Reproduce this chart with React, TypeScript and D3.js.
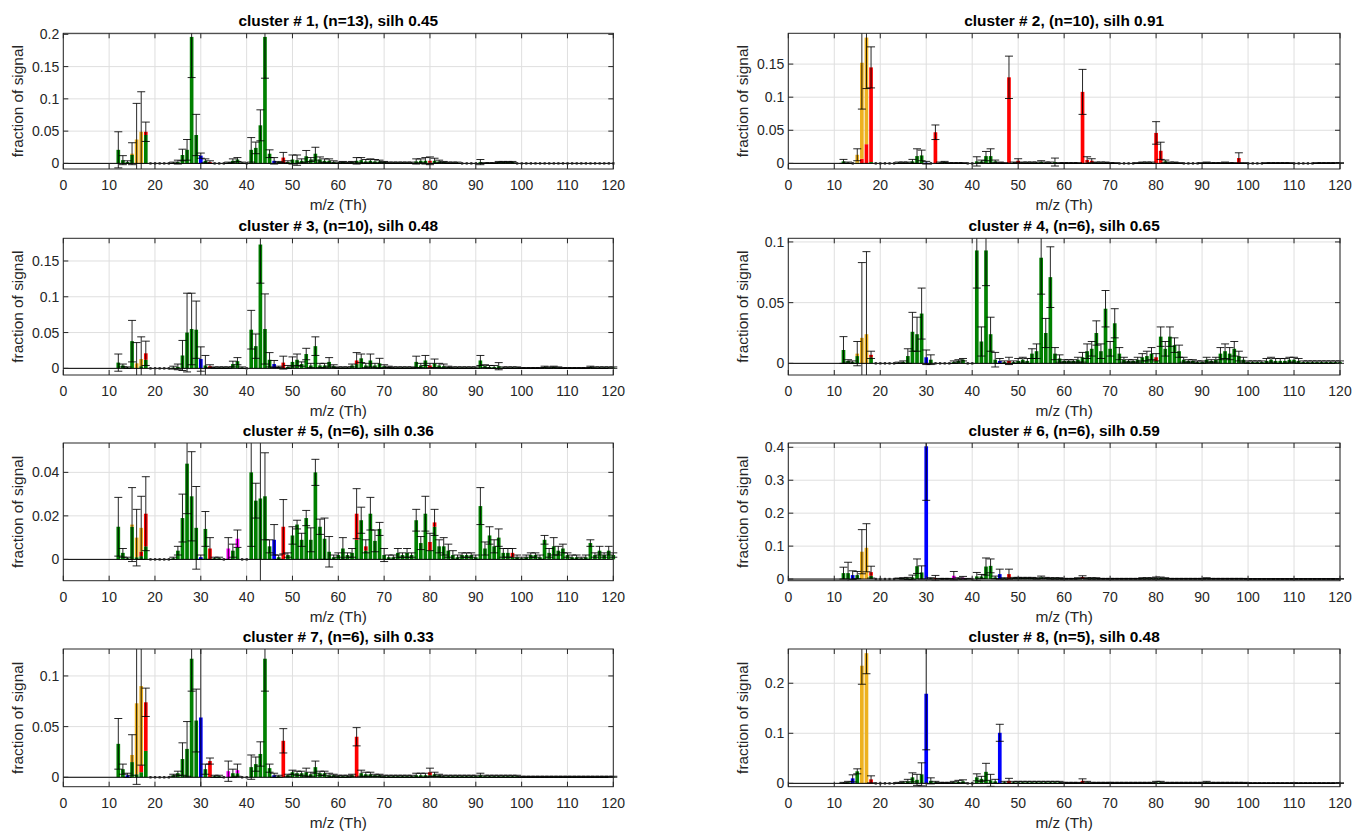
import React from 'react';
import * as d3 from 'd3';

// m/z categories on the x axis
const MZ = d3.range(12, 121);

// fraction of signal in thousandths, one value per m/z 12..120
const c1Mean = [
  21, 5, 2, 15, 37, 49, 49, 0, // 12-19
  0, 0, 0, 0, 1, 2, 13, 21, 196, 44, // 20-29
  12, 4, 2, 0, 0, 0, 1, 4, 6, 1, // 30-39
  0, 21, 24, 59, 196, 15, 4, 2, 9, 2, // 40-49
  6, 5, 4, 11, 6, 15, 6, 4, 4, 2, // 50-59
  1, 2, 1, 2, 4, 5, 3, 4, 3, 3, // 60-69
  2, 1, 1, 1, 1, 1, 1, 3, 4, 4, // 70-79
  4, 4, 3, 2, 1, 1, 1, 0, 0, 0, // 80-89
  0, 2, 0.5, 0.5, 0.5, 2, 2, 2, 2, 0, // 90-99
  0, 0, 0, 0, 0, 0, 0, 0, 0, 0, // 100-109
  0, 0, 0, 0, 0, 0, 0, 0, 0, 0, // 110-119
  0, // 120
];
const c1Err = [
  28, 7, 2, 17, 56, 62, 15, 0,
  0, 0, 0, 0, 1, 3, 9, 16, 63, 32,
  4, 3, 2, 0, 0, 0, 1, 3, 3, 1,
  0, 19, 9, 24, 64, 6, 5, 1, 8, 2,
  7, 8, 3, 9, 3, 10, 4, 3, 3, 2,
  1, 1, 1, 1, 5, 4, 3, 3, 3, 2,
  1, 1, 1, 1, 1, 1, 1, 4, 3, 5,
  6, 4, 2, 1, 1, 1, 1, 0, 0, 0,
  0, 4, 0.5, 0.5, 0.5, 1, 1, 1, 1, 0,
  0, 0, 0, 0, 0, 0, 0, 0, 0, 0,
  0, 0, 0, 0, 0, 0, 0, 0, 0, 0,
  0,
];
// non-green families stacked above the green part: [m/z, family, value]
const c1Ions = [
  [15, 'o', 2], [16, 'o', 37], [17, 'o', 49], [18, 'r', 5], [30, 'b', 12],
  [32, 'r', 2], [46, 'b', 4], [48, 'r', 9], [80, 'r', 3],
];

const c2Mean = [
  3, 1, 0, 13, 152, 190, 145, 0,
  0, 0, 0, 0, 1, 1, 1, 3, 11, 12,
  1, 0, 47, 1, 2, 0.5, 0.5, 0.5, 0.5, 0,
  0, 3, 3, 11, 11, 3, 1, 0.5, 130, 1,
  4, 1, 1, 1, 1, 2, 1, 1, 2, 0.5,
  0.5, 0.5, 0.5, 0.5, 108, 5, 4, 1, 1, 1,
  0.5, 0.5, 0, 0, 0, 0, 0.5, 1, 1, 1,
  46, 19, 3, 1, 1, 0.5, 0, 0, 0, 0,
  0.5, 1, 0.5, 0.5, 0.5, 1, 0.5, 0.5, 8, 0.5,
  0, 0, 0, 0, 0.5, 0.5, 0.5, 0.5, 0.5, 0.5,
  0, 0, 0, 0, 0, 0.5, 0.5, 0.5, 0.5, 0.5,
  0.5,
];
const c2Err = [
  3, 1, 0, 9, 70, 77, 31, 0,
  0, 0, 0, 0, 1, 1, 1, 3, 11, 8,
  2, 0, 11, 1, 1, 0.5, 0.5, 0.5, 0.5, 0,
  0, 7, 2, 7, 11, 2, 1, 0.5, 32, 1,
  3, 1, 1, 1, 1, 2, 1, 1, 6, 0.5,
  0.5, 0.5, 0.5, 0.5, 34, 5, 3, 1, 1, 1,
  0.5, 0.5, 0, 0, 0, 0, 0.5, 1, 1, 1,
  17, 13, 2, 1, 1, 0.5, 0, 0, 0, 0,
  0.5, 1, 0.5, 0.5, 0.5, 1, 0.5, 0.5, 8, 0.5,
  0, 0, 0, 0, 0.5, 0.5, 0.5, 0.5, 0.5, 0.5,
  0, 0, 0, 0, 0, 0.5, 0.5, 0.5, 0.5, 0.5,
  0.5,
];
const c2Ions = [
  [15, 'o', 12], [16, 'r', 7], [16, 'o', 145], [17, 'r', 29], [17, 'o', 161],
  [18, 'r', 143], [30, 'b', 1], [32, 'r', 47], [48, 'r', 130], [50, 'r', 4],
  [64, 'r', 108], [65, 'r', 4], [66, 'r', 3], [80, 'r', 46], [81, 'r', 19], [98, 'r', 8],
];

const c3Mean = [
  8, 4, 1, 38, 7, 13, 21, 0,
  0, 0, 0, 0, 1, 2, 18, 50, 55, 54,
  13, 4, 3, 1, 1, 1, 1, 6, 10, 1,
  0, 54, 31, 173, 55, 12, 6, 2, 8, 2,
  9, 12, 6, 20, 4, 31, 4, 4, 9, 3,
  1, 1, 1, 4, 11, 14, 4, 11, 4, 7,
  3, 2, 1, 1, 1, 1, 1, 9, 4, 11,
  4, 7, 4, 3, 2, 1, 1, 1, 1, 1,
  1, 11, 3, 2, 2, 3, 1, 1, 1, 1,
  0.5, 0.5, 0.5, 0.5, 0.5, 2, 1, 2, 1, 0.5,
  0.5, 0.5, 0.5, 0.5, 0.5, 2, 1, 1, 1, 1,
  1,
];
const c3Err = [
  12, 2, 1, 29, 29, 31, 17, 0,
  0, 0, 0, 0, 2, 4, 21, 55, 50, 40,
  17, 14, 2, 1, 1, 1, 1, 4, 5, 1,
  0, 27, 17, 54, 49, 10, 5, 1, 9, 2,
  7, 8, 3, 8, 3, 13, 3, 3, 6, 2,
  1, 1, 1, 2, 11, 6, 3, 9, 3, 7,
  2, 1, 1, 1, 1, 1, 1, 8, 3, 7,
  3, 6, 3, 3, 1, 1, 1, 1, 1, 1,
  1, 7, 2, 2, 2, 5, 1, 1, 1, 1,
  0.5, 0.5, 0.5, 0.5, 0.5, 1, 1, 1, 1, 0.5,
  0.5, 0.5, 0.5, 0.5, 0.5, 1, 1, 1, 1, 1,
  1,
];
const c3Ions = [
  [16, 'o', 7], [17, 'o', 10], [18, 'r', 9], [30, 'b', 13], [32, 'r', 3],
  [46, 'b', 6], [48, 'r', 8], [64, 'r', 5], [80, 'r', 4],
];

const c4Mean = [
  11, 2, 1, 8, 21, 24, 7, 0,
  0, 0, 0, 0, 0.5, 1, 6, 26, 24, 41,
  5, 3, 0, 0, 0, 0, 1, 2, 3, 0,
  0, 93, 18, 93, 24, 3, 2, 1, 2, 1,
  2, 3, 2, 8, 10, 87, 25, 71, 8, 4,
  2, 2, 2, 3, 5, 10, 12, 25, 10, 45,
  12, 33, 8, 3, 2, 2, 3, 5, 6, 8,
  5, 22, 12, 22, 15, 10, 3, 2, 2, 1,
  1, 3, 2, 3, 8, 10, 8, 12, 6, 3,
  1, 1, 1, 1, 2, 3, 2, 2, 2, 3,
  3, 2, 1, 1, 1, 1, 1, 1, 1, 1,
  1,
];
const c4Err = [
  11, 1, 1, 10, 62, 68, 3, 0,
  0, 0, 0, 0, 0.5, 1, 6, 16, 14, 21,
  6, 4, 0, 0, 0, 0, 1, 1, 1, 0,
  0, 31, 12, 29, 14, 6, 2, 1, 3, 1,
  2, 2, 2, 4, 6, 30, 12, 25, 5, 3,
  1, 1, 1, 2, 4, 6, 6, 10, 6, 15,
  6, 12, 5, 2, 1, 1, 2, 3, 4, 5,
  3, 8, 6, 8, 6, 5, 2, 1, 1, 1,
  1, 2, 1, 2, 5, 6, 5, 6, 4, 2,
  1, 1, 1, 1, 2, 2, 2, 2, 2, 2,
  2, 2, 1, 1, 1, 1, 1, 1, 1, 1,
  1,
];
const c4Ions = [
  [15, 'o', 2], [16, 'o', 21], [17, 'o', 24], [18, 'r', 2], [30, 'b', 5],
  [46, 'b', 2], [48, 'r', 2], [80, 'r', 3],
];

const c5Mean = [
  15, 3, 0.5, 16, 10, 14.5, 21, 0,
  0, 0, 0, 0, 0.5, 4, 19, 44, 29, 14.5,
  1, 14, 5, 0.5, 0.5, 0, 5, 4, 9.5, 0,
  0, 40, 27, 28, 29, 6, 9, 1, 15, 2,
  11, 16, 9, 19, 9, 40, 15, 9.5, 3.5, 1,
  2, 5, 2, 3, 21, 18, 6, 21, 8.5, 14,
  2, 1, 1, 3, 2, 3, 2, 18, 7.5, 21,
  8, 17, 6, 6, 4, 2, 1, 2, 2, 2,
  1, 24.5, 5, 11, 6, 10, 3, 3, 3, 1,
  0.5, 1, 2, 2, 1, 9, 3, 6, 4, 5,
  2, 1, 1, 0.5, 1, 7.5, 2, 4, 2, 4,
  2,
];
const c5Err = [
  13.5, 2, 0.5, 17, 13, 14.5, 17, 0,
  0, 0, 0, 0, 0.5, 2, 11, 23, 20.5, 19,
  1, 8, 5, 0.5, 0.5, 0, 5, 3, 4, 0,
  0, 34, 8, 60, 20, 3, 7, 1, 12.5, 1,
  4, 2, 3, 3.5, 5.5, 6, 3.5, 9.5, 7, 1,
  1, 5, 1, 2, 11.5, 6, 3, 7.5, 5, 3,
  3, 1, 1, 2, 1, 2, 1, 5, 3, 8,
  4, 6, 3, 4, 3, 2, 1, 1, 1, 1,
  1, 8.5, 3, 4, 3, 4, 2, 2, 2, 1,
  0.5, 1, 1, 1, 1, 2, 2, 4, 2, 2,
  1, 1, 1, 0.5, 1, 1.5, 1, 2, 1, 2,
  1,
];
const c5Ions = [
  [15, 'o', 1], [16, 'o', 9], [17, 'r', 2], [17, 'o', 11], [18, 'r', 15],
  [30, 'b', 1], [32, 'r', 5], [36, 'm', 5], [38, 'm', 4], [46, 'b', 9],
  [48, 'r', 15], [64, 'r', 12], [66, 'r', 2], [80, 'r', 4], [81, 'r', 2], [98, 'r', 2],
];

const c6Mean = [
  18, 18, 12, 12, 83, 95, 21, 0,
  0, 0, 0, 0, 2, 2, 2, 5, 39, 20,
  403, 2, 3, 1, 1, 1, 10, 2, 4, 1,
  0, 8, 8, 38, 40, 5, 15, 2, 15, 3,
  3, 3, 3, 3, 2, 5, 3, 2, 2, 2,
  1, 1, 1, 2, 6, 2, 2, 2, 1, 1,
  1, 1, 1, 1, 1, 1, 1, 2, 2, 2,
  3, 3, 2, 1, 1, 1, 1, 1, 1, 1,
  1, 2, 1, 1, 1, 1, 1, 1, 1, 1,
  0.5, 0.5, 0.5, 0.5, 0.5, 0.5, 0.5, 0.5, 0.5, 0.5,
  0.5, 0.5, 0.5, 0.5, 0.5, 0.5, 0.5, 0.5, 0.5, 0.5,
  0.5,
];
const c6Err = [
  18, 33, 13, 11, 67, 73, 18, 0,
  0, 0, 0, 0, 1, 2, 3, 7, 22, 20,
  164, 2, 8, 1, 1, 1, 13, 2, 4, 1,
  0, 12, 6, 26, 21, 4, 15, 2, 15, 2,
  2, 2, 2, 2, 2, 4, 2, 2, 2, 2,
  1, 1, 1, 2, 4, 2, 2, 2, 1, 1,
  1, 1, 1, 1, 1, 1, 1, 2, 2, 2,
  3, 3, 2, 1, 1, 1, 1, 1, 1, 1,
  1, 2, 1, 1, 1, 1, 1, 1, 1, 1,
  0.5, 0.5, 0.5, 0.5, 0.5, 0.5, 0.5, 0.5, 0.5, 0.5,
  0.5, 0.5, 0.5, 0.5, 0.5, 0.5, 0.5, 0.5, 0.5, 0.5,
  0.5,
];
const c6Ions = [
  [14, 'b', 12], [16, 'o', 83], [17, 'o', 95], [18, 'r', 11], [30, 'b', 403],
  [32, 'r', 3], [36, 'm', 10], [38, 'm', 4], [46, 'b', 15], [48, 'r', 15], [64, 'r', 5],
];

const c7Mean = [
  33, 8, 2, 22, 73, 90, 74, 0,
  0, 0, 0, 0, 2, 4, 18, 28, 117, 56,
  59, 8, 16, 1, 1, 0, 6, 4, 7, 0,
  0, 10, 13, 23, 117, 9, 2, 1, 36, 2,
  5, 4, 4, 5, 3, 10, 4, 4, 2, 2,
  1, 1, 1, 2, 40, 4, 3, 3, 2, 2,
  1, 1, 1, 1, 1, 1, 1, 2, 2, 2,
  5, 3, 2, 1, 1, 1, 1, 1, 1, 1,
  1, 2, 1, 1, 1, 1, 1, 1, 1, 1,
  0.5, 0.5, 0.5, 0.5, 0.5, 0.5, 0.5, 0.5, 0.5, 0.5,
  0.5, 0.5, 0.5, 0.5, 0.5, 0.5, 0.5, 0.5, 0.5, 0.5,
  0.5,
];
const c7Err = [
  25, 5, 2, 20, 80, 78, 14, 0,
  0, 0, 0, 0, 1, 2, 16, 27, 32, 31,
  120, 5, 3, 1, 1, 0, 10, 4, 6, 0,
  0, 12, 7, 12, 32, 4, 2, 1, 12, 1,
  2, 2, 2, 4, 2, 6, 2, 2, 2, 1,
  1, 1, 1, 1, 9, 3, 2, 2, 1, 1,
  1, 1, 1, 1, 1, 1, 1, 2, 2, 2,
  4, 2, 1, 1, 1, 1, 1, 1, 1, 1,
  1, 2, 1, 1, 1, 1, 1, 1, 1, 1,
  0.5, 0.5, 0.5, 0.5, 0.5, 0.5, 0.5, 0.5, 0.5, 0.5,
  0.5, 0.5, 0.5, 0.5, 0.5, 0.5, 0.5, 0.5, 0.5, 0.5,
  0.5,
];
const c7Ions = [
  [14, 'b', 2], [15, 'o', 7], [16, 'o', 70], [17, 'r', 7], [17, 'o', 78],
  [18, 'r', 48], [30, 'b', 59], [32, 'r', 16], [36, 'm', 6], [38, 'm', 3],
  [46, 'b', 2], [48, 'r', 36], [64, 'r', 40], [80, 'r', 3],
];

const c8Mean = [
  1, 2, 10, 24, 235, 260, 8, 0,
  0, 0, 0, 0, 1, 2, 4, 12, 7, 18,
  179, 5, 2, 1, 1, 1, 2, 3, 4, 0,
  0, 12, 9, 23, 6, 4, 101, 2, 5, 2,
  2, 2, 2, 2, 2, 2, 2, 2, 2, 2,
  1, 1, 1, 1, 5, 2, 1, 1, 1, 1,
  1, 1, 1, 1, 1, 1, 1, 1, 1, 1,
  2, 2, 1, 1, 1, 1, 1, 1, 1, 1,
  1, 2, 1, 1, 1, 1, 1, 1, 1, 1,
  0.5, 0.5, 0.5, 0.5, 0.5, 0.5, 0.5, 0.5, 0.5, 0.5,
  0.5, 0.5, 0.5, 0.5, 0.5, 0.5, 0.5, 0.5, 0.5, 0.5,
  0.5,
];
const c8Err = [
  1, 2, 7, 5, 37, 41, 7, 0,
  0, 0, 0, 0, 1, 2, 4, 9, 11, 23,
  112, 6, 2, 1, 1, 1, 2, 3, 3, 0,
  0, 7, 5, 17, 12, 4, 17, 2, 5, 2,
  2, 2, 2, 2, 2, 2, 2, 2, 2, 2,
  1, 1, 1, 1, 4, 2, 1, 1, 1, 1,
  1, 1, 1, 1, 1, 1, 1, 1, 1, 1,
  2, 2, 1, 1, 1, 1, 1, 1, 1, 1,
  1, 2, 1, 1, 1, 1, 1, 1, 1, 1,
  0.5, 0.5, 0.5, 0.5, 0.5, 0.5, 0.5, 0.5, 0.5, 0.5,
  0.5, 0.5, 0.5, 0.5, 0.5, 0.5, 0.5, 0.5, 0.5, 0.5,
  0.5,
];
const c8Ions = [
  [14, 'b', 10], [16, 'o', 235], [17, 'o', 260], [18, 'r', 8], [30, 'b', 179],
  [46, 'b', 101], [48, 'r', 5], [64, 'r', 5],
];

const titles = [
  'cluster # 1, (n=13), silh 0.45',
  'cluster # 2, (n=10), silh 0.91',
  'cluster # 3, (n=10), silh 0.48',
  'cluster # 4, (n=6), silh 0.65',
  'cluster # 5, (n=6), silh 0.36',
  'cluster # 6, (n=6), silh 0.59',
  'cluster # 7, (n=6), silh 0.33',
  'cluster # 8, (n=5), silh 0.48',
];
const yLims = [
  [-0.0087, 0.2016], [-0.0085, 0.1965], [-0.0093, 0.1817], [-0.0096, 0.103],
  [-0.0098, 0.0535], [-0.005, 0.413], [-0.0093, 0.1266], [-0.0067, 0.2684],
];
const yTicks = [
  [0, 0.05, 0.1, 0.15, 0.2], [0, 0.05, 0.1, 0.15], [0, 0.05, 0.1, 0.15], [0, 0.05, 0.1],
  [0, 0.02, 0.04], [0, 0.1, 0.2, 0.3, 0.4], [0, 0.05, 0.1], [0, 0.1, 0.2],
];
const xTicks = [0, 10, 20, 30, 40, 50, 60, 70, 80, 90, 100, 110, 120];

const means = [c1Mean, c2Mean, c3Mean, c4Mean, c5Mean, c6Mean, c7Mean, c8Mean];
const errs = [c1Err, c2Err, c3Err, c4Err, c5Err, c6Err, c7Err, c8Err];
const ions = [c1Ions, c2Ions, c3Ions, c4Ions, c5Ions, c6Ions, c7Ions, c8Ions];

const COLORS: Record<string, string> = {
  g: '#008000', r: '#ff0000', o: '#edb120', b: '#0000ff', m: '#ff00ff',
};
const ORDER = ['g', 'r', 'o', 'b', 'm'];

const COL_X = [[63.3, 613.3], [788.3, 1340]];
const ROW_Y = [[33.3, 169], [238.3, 375], [443, 580.7], [649, 786.7]];
const FONT = '"Liberation Sans", Arial, Helvetica, sans-serif';
const AX = '#262626';

const Panel = ({ idx }: { idx: number }) => {
  const [x0, x1] = COL_X[idx % 2];
  const [y0, y1] = ROW_Y[Math.floor(idx / 2)];
  const x = d3.scaleLinear().domain([0, 120]).range([x0, x1]);
  const y = d3.scaleLinear().domain(yLims[idx]).range([y1, y0]);
  const bw = x(0.8) - x(0);
  const mean = means[idx];
  const err = errs[idx];
  const ion = ions[idx] as [number, string, number][];
  const clip = `clip${idx}`;

  const stacks = MZ.map((mz, i) => {
    const total = mean[i] / 1000;
    const parts = ion.filter((d) => d[0] === mz);
    const other = d3.sum(parts, (d) => d[2]) / 1000;
    const segs = [{ fam: 'g', v: Math.max(0, total - other) }];
    ORDER.slice(1).forEach((f) =>
      parts.filter((p) => p[1] === f).forEach((p) => segs.push({ fam: f, v: p[2] / 1000 })),
    );
    let acc = 0;
    return segs.map((s) => {
      const r = { fam: s.fam, a: acc, b: acc + s.v };
      acc += s.v;
      return r;
    });
  });

  return (
    <g>
      <defs>
        <clipPath id={clip}>
          <rect x={x0 - 6} y={y0} width={x1 - x0 + 12} height={y1 - y0} />
        </clipPath>
      </defs>
      <rect x={x0} y={y0} width={x1 - x0} height={y1 - y0} fill="#fff" />
      {xTicks.map((t) => (
        <line key={'gx' + t} x1={x(t)} x2={x(t)} y1={y0} y2={y1} stroke="#dfdfdf" />
      ))}
      {yTicks[idx].map((t) => (
        <line key={'gy' + t} x1={x0} x2={x1} y1={y(t)} y2={y(t)} stroke="#dfdfdf" />
      ))}
      <g clipPath={`url(#${clip})`}>
        {MZ.map((mz, i) =>
          stacks[i]
            .filter((s) => s.b > s.a)
            .map((s) => (
              <rect
                key={`b${mz}${s.fam}`}
                x={x(mz) - bw / 2}
                y={y(s.b)}
                width={bw}
                height={y(s.a) - y(s.b)}
                fill={COLORS[s.fam]}
              />
            )),
        )}
        <line x1={x0} x2={x1} y1={y(0)} y2={y(0)} stroke="#000" strokeWidth={1} />
        {MZ.map((mz, i) => {
          const v = mean[i] / 1000;
          const e = err[i] / 1000;
          const cx = x(mz);
          if (v === 0 && e === 0) {
            return <rect key={'z' + mz} x={cx - 1} y={y(0) - 1.2} width={2.2} height={2.4} fill="#222" />;
          }
          return (
            <g key={'e' + mz} stroke="#000" strokeWidth={1} strokeOpacity={0.85}>
              <line x1={cx} x2={cx} y1={y(v - e)} y2={y(v + e)} />
              <line x1={cx - 4} x2={cx + 4} y1={y(v - e)} y2={y(v - e)} />
              <line x1={cx - 4} x2={cx + 4} y1={y(v + e)} y2={y(v + e)} />
            </g>
          );
        })}
      </g>
      <rect x={x0} y={y0} width={x1 - x0} height={y1 - y0} fill="none" stroke={AX} strokeWidth={1} />
      {xTicks.map((t) => (
        <g key={'tx' + t}>
          <line x1={x(t)} x2={x(t)} y1={y1} y2={y1 - 5} stroke={AX} />
          <line x1={x(t)} x2={x(t)} y1={y0} y2={y0 + 5} stroke={AX} />
          <text x={x(t)} y={y1 + 21} textAnchor="middle" fontSize={14} fill={AX} fontFamily={FONT}>
            {t}
          </text>
        </g>
      ))}
      {yTicks[idx].map((t) => (
        <g key={'ty' + t}>
          <line x1={x0} x2={x0 + 5} y1={y(t)} y2={y(t)} stroke={AX} />
          <line x1={x1} x2={x1 - 5} y1={y(t)} y2={y(t)} stroke={AX} />
          <text x={x0 - 4} y={y(t) + 5} textAnchor="end" fontSize={14} fill={AX} fontFamily={FONT}>
            {t}
          </text>
        </g>
      ))}
      <text
        x={(x0 + x1) / 2}
        y={y0 - 7}
        textAnchor="middle"
        fontSize={15.4}
        fontWeight="bold"
        fill="#000"
        fontFamily={FONT}
      >
        {titles[idx]}
      </text>
      <text x={(x0 + x1) / 2} y={y1 + 41} textAnchor="middle" fontSize={15.4} fill={AX} fontFamily={FONT}>
        m/z (Th)
      </text>
      <text
        transform={`translate(${x0 - 44},${(y0 + y1) / 2}) rotate(-90)`}
        textAnchor="middle"
        dominantBaseline="middle"
        fontSize={15.4}
        fill={AX}
        fontFamily={FONT}
      >
        fraction of signal
      </text>
    </g>
  );
};

export default function App() {
  return (
    <div style={{ position: 'absolute', left: 0, top: 0 }}>
      <svg width={1352} height={831} style={{ display: 'block', background: '#fff' }}>
        {titles.map((t, i) => (
          <Panel key={t} idx={i} />
        ))}
      </svg>
    </div>
  );
}
